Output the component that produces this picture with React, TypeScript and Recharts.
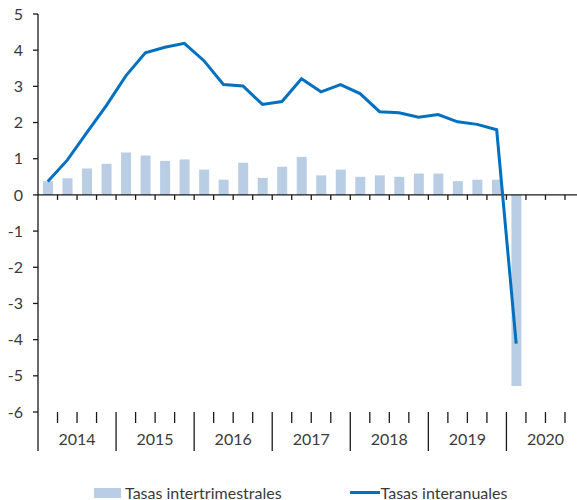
import React from "react";
import { ComposedChart, Bar, Line, XAxis, YAxis, ReferenceLine, Legend } from "recharts";

const FONT = "Lato, 'Liberation Sans', sans-serif";
const TEXT = "#3a3a3a";
const AXIS = "#1a1a1a";
const BAR = "#B9CDE5";
const LINE = "#0070C0";

const years = ["2014", "2015", "2016", "2017", "2018", "2019", "2020"];
const quarterNames = ["I", "II", "III", "IV"];

// tasas intertrimestrales (%)
const quarterlyRates: (number | null)[] = [
  0.38, 0.46, 0.73, 0.86,
  1.17, 1.09, 0.94, 0.98,
  0.7, 0.42, 0.89, 0.47,
  0.78, 1.05, 0.54, 0.7,
  0.5, 0.54, 0.5, 0.59,
  0.59, 0.38, 0.42, 0.42,
  -5.28, null, null, null,
];

// tasas interanuales (%)
const annualRates: (number | null)[] = [
  0.37, 0.96, 1.72, 2.47,
  3.29, 3.93, 4.08, 4.19,
  3.71, 3.05, 3.01, 2.5,
  2.58, 3.21, 2.85, 3.05,
  2.8, 2.3, 2.27, 2.15,
  2.22, 2.02, 1.95, 1.8,
  -4.11, null, null, null,
];

const yTicks = [-6, -5, -4, -3, -2, -1, 0, 1, 2, 3, 4, 5];

const quarters = years.flatMap((y) => quarterNames.map((q) => `${q} ${y}`));
const boundaryTicks = quarters.map((_, i) => i).concat(quarters.length);

const data = quarters.map((q, i) => ({
  q,
  idx: i,
  inter: quarterlyRates[i],
  interanual: annualRates[i],
}));

// zero line with small ticks between quarters
function ZeroAxis(props: any) {
  const { x1, y1, x2 } = props;
  const step = (x2 - x1) / quarters.length;
  return (
    <g>
      <line x1={x1} y1={y1} x2={x2} y2={y1} stroke={AXIS} strokeWidth={1.3} />
      {quarters.map((_, i) =>
        i === 0 ? null : (
          <line key={i} x1={x1 + i * step} y1={y1} x2={x1 + i * step} y2={y1 + 5} stroke={AXIS} strokeWidth={1.3} />
        )
      )}
    </g>
  );
}

// bottom axis: quarter ticks, year separators and year labels
function YearTick(props: any) {
  const { x, y, payload } = props;
  const v = Number(payload.value);
  const yearStart = v % 4 === 0;
  return (
    <g>
      <line x1={x} y1={y} x2={x} y2={y + (yearStart ? 39 : 11)} stroke={AXIS} strokeWidth={1.3} />
      {v % 4 === 2 && (
        <text x={x} y={y + 33} textAnchor="middle" fill={TEXT} fontSize={16} fontFamily={FONT}>
          {years[(v - 2) / 4]}
        </text>
      )}
    </g>
  );
}

function LegendBox() {
  return (
    <div
      style={{
        height: 40,
        paddingTop: 25,
        paddingLeft: 17,
        boxSizing: "border-box",
        display: "flex",
        justifyContent: "center",
        alignItems: "center",
        gap: 68,
        fontFamily: FONT,
        fontSize: 16,
        color: TEXT,
        lineHeight: "18px",
      }}
    >
      <span style={{ display: "flex", alignItems: "center", gap: 4 }}>
        <span style={{ display: "inline-block", width: 27, height: 10, background: BAR }} />
        Tasas intertrimestrales
      </span>
      <span style={{ display: "flex", alignItems: "center", gap: 1 }}>
        <span style={{ display: "inline-block", width: 30, height: 3, background: LINE }} />
        Tasas interanuales
      </span>
    </div>
  );
}

export default function App() {
  return (
    <div
      style={{
        position: "fixed",
        left: 0,
        top: 0,
        width: 577,
        height: 500,
        overflow: "hidden",
        background: "#fff",
        fontFamily: FONT,
      }}
    >
      <ComposedChart width={600} height={500} data={data} margin={{ top: 14, right: 15.5, bottom: 0, left: 0 }}>
        <XAxis xAxisId="cat" dataKey="q" hide />
        <XAxis
          xAxisId="b"
          dataKey="idx"
          type="number"
          domain={[0, quarters.length]}
          ticks={boundaryTicks}
          interval={0}
          allowDataOverflow
          axisLine={false}
          tickLine={false}
          tickSize={0}
          tickMargin={0}
          height={48}
          tick={<YearTick />}
        />
        <YAxis
          domain={[-6, 5]}
          ticks={yTicks}
          interval={0}
          width={38}
          tickSize={5}
          tickMargin={10}
          axisLine={{ stroke: AXIS, strokeWidth: 1.3 }}
          tickLine={{ stroke: AXIS, strokeWidth: 1.3 }}
          tick={{ fill: TEXT, fontSize: 16, fontFamily: FONT }}
        />
        <Bar xAxisId="cat" dataKey="inter" fill={BAR} barSize={10} isAnimationActive={false} />
        <ReferenceLine xAxisId="cat" y={0} shape={<ZeroAxis />} />
        <Line
          xAxisId="cat"
          dataKey="interanual"
          stroke={LINE}
          strokeWidth={3}
          dot={false}
          activeDot={false}
          type="linear"
          isAnimationActive={false}
        />
        <Legend verticalAlign="bottom" content={<LegendBox />} />
      </ComposedChart>
    </div>
  );
}
